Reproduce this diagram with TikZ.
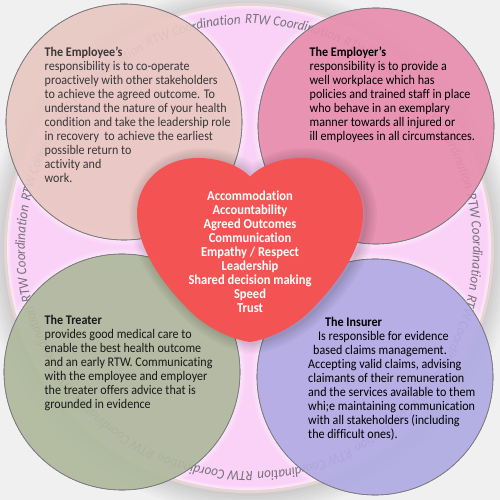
\documentclass[tikz,border=0pt]{standalone}
\usepackage{fontspec}
\setmainfont{Carlito}[FakeStretch=0.915,Ligatures=CommonOff]
\usetikzlibrary{decorations.text}
\definecolor{bgc}{HTML}{F0F0F0}
\definecolor{ringc}{HTML}{FAD2F7}
\definecolor{rimc}{HTML}{E6D5D2}
\definecolor{edgec}{HTML}{7E7880}
\definecolor{heartc}{HTML}{F35453}
\definecolor{empc}{HTML}{E9C8C2}
\definecolor{emrc}{HTML}{E78EAD}
\definecolor{trec}{HTML}{AFB99C}
\definecolor{insc}{HTML}{B1ABE4}
\definecolor{ringtext}{HTML}{76727A}
\tikzset{
  disc/.style={draw=edgec,line width=0.6pt,fill opacity=0.92},
  body/.style={inner sep=0pt,align=left,anchor=north west,font=\fontsize{13.2}{14}\selectfont},
  hearttext/.style={inner sep=0pt,align=center,anchor=north,text=white,font=\fontsize{13.7}{14}\selectfont\bfseries},
}
\def\heartpath{(250,323.3) .. controls (240,334) and (220,342) .. (198,342)
  .. controls (163,342) and (137,318) .. (137,287)
  .. controls (137,255) and (158,220) .. (192,187)
  .. controls (210,170) and (235,160) .. (250,158)
  .. controls (265,160) and (290,170) .. (308,187)
  .. controls (342,220) and (363,255) .. (363,287)
  .. controls (363,318) and (337,342) .. (302,342)
  .. controls (280,342) and (260,334) .. (250,323.3) -- cycle}
\begin{document}
\begin{tikzpicture}[x=1pt,y=1pt]
\useasboundingbox (0,0) rectangle (500,500);
\fill[bgc] (0,0) rectangle (500,500);
% soft shadow round the big disc
\foreach \r in {264,261,258,255,252,249,246}
  \fill[black,opacity=0.02] (249,250) circle (\r);
\fill[rimc] (249,252) circle (245);
\fill[ringc] (249,252) circle (242);
\begin{scope}
  \clip (249,252) circle (242);
  \foreach \w in {1,2.5,4,5.5,7}
    \draw[white,opacity=0.14,line width=\w pt] (249,252) circle (242);
  \foreach \cx/\cy in {124/378,376/374,122/128,375/123}
    \foreach \w in {2,5,8,11}
      \draw[white,opacity=0.13,line width=\w pt] (\cx,\cy) circle (118);
\end{scope}
% circular text
\foreach \i in {0,...,13}{
  \pgfmathsetmacro{\a}{91-25.714*\i}
  \pgfmathsetmacro{\b}{\a-25.6}
  \path[decorate,decoration={text along path,
      text={|\fontsize{14.2}{16}\selectfont\itshape\color{ringtext}|RTW Coordination}}]
    (249,252) ++(\a:224) arc[start angle=\a,end angle=\b,radius=224];
}
% discs
\fill[disc,fill=empc] (124,378) circle (118);
\fill[disc,fill=emrc] (376,374) circle (118);
\fill[disc,fill=trec] (122,128) circle (118);
\fill[disc,fill=insc] (375,123) circle (118);
\draw[edgec,line width=0.6pt] (124,378) circle (118);
\draw[edgec,line width=0.6pt] (376,374) circle (118);
\draw[edgec,line width=0.6pt] (122,128) circle (118);
\draw[edgec,line width=0.6pt] (375,123) circle (118);
% heart
\begin{scope}[shift={(3,-1)}]
  \foreach \w in {22,18,14,10,6,3}
    \draw[black,opacity=0.028,line width=\w pt,line join=round] \heartpath;
\end{scope}
\fill[heartc] \heartpath;
% texts
\node[body,text=black!78] (employee) at (44.5,453.5) {\textbf{The Employee’s}\\
responsibility is to co-operate\\
proactively with other stakeholders\\
to achieve the agreed outcome. To\\
understand the nature of your health\\
condition and take the leadership role\\
in recovery\ \ to achieve the earliest\\
possible return to\\
activity and\\
work.};
\node[body,text=black] (employer) at (309.5,453.5) {\textbf{The Employer’s}\\
responsibility is to provide a\\
well workplace which has\\
policies and trained staff in place\\
who behave in an exemplary\\
manner towards all injured or\\
ill employees in all circumstances.};
\node[body,text=black!90] (treater) at (44.5,185) {\textbf{The Treater}\\
provides good medical care to\\
enable the best health outcome\\
and an early RTW. Communicating\\
with the employee and employer\\
the treater offers advice that is\\
grounded in evidence};
\node[body,text=black] (insurer) at (308,183) {\hspace*{17pt}\textbf{The Insurer}\\
\hspace*{10pt}Is responsible for evidence\\
\hspace*{5pt}based claims management.\\
Accepting valid claims, advising\\
claimants of their remuneration\\
and the services available to them\\
whi;e maintaining communication\\
with all stakeholders (including\\
the difficult ones).};
\node[hearttext] (values) at (250,309.5) {Accommodation\\
Accountability\\
Agreed Outcomes\\
Communication\\
Empathy / Respect\\
Leadership\\
Shared decision making\\
Speed\\
Trust};
\end{tikzpicture}
\end{document}
